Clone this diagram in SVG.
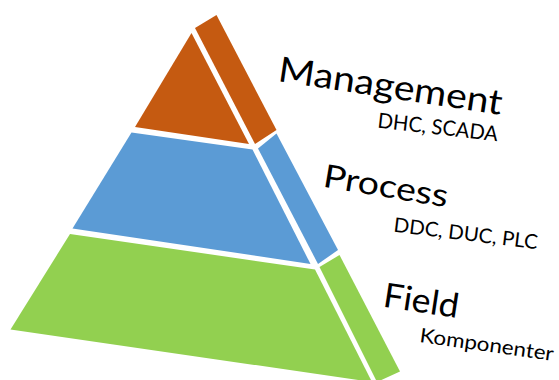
<svg xmlns="http://www.w3.org/2000/svg" width="559" height="380" viewBox="0 0 559 380">
<style>
.org{fill:#C55A11}
.blu{fill:#5B9BD5}
.grn{fill:#92D050}
.big{font-family:Lato,"Liberation Sans",sans-serif;fill:#000}
.small{font-family:Lato,"Liberation Sans",sans-serif;fill:#000}
</style>
<rect width="559" height="380" fill="#fff"/>
<g id="management">
<polygon class="org" points="191.5,33 135,127 249,144"/>
<polygon class="org" points="195,28 216.5,15 276.5,130 255,144"/>
<text class="big" x="277" y="81" font-size="35" textLength="226" lengthAdjust="spacingAndGlyphs" transform="rotate(8.6 277 81)">Management</text>
<text class="small" x="377" y="127.5" font-size="21" textLength="121" lengthAdjust="spacingAndGlyphs" transform="rotate(6.5 377 127.5)">DHC, SCADA</text>
</g>
<g id="process">
<polygon class="blu" points="131.5,132.5 252.5,149.5 310.5,264 72.5,228.5"/>
<polygon class="blu" points="258,148.5 276.5,133.5 338,250 318,264"/>
<text class="big" x="322" y="186.5" font-size="32" textLength="126" lengthAdjust="spacingAndGlyphs" transform="rotate(9.5 322 186.5)">Process</text>
<text class="small" x="393" y="231.5" font-size="20" textLength="145" lengthAdjust="spacingAndGlyphs" transform="rotate(7 393 231.5)">DDC, DUC, PLC</text>
</g>
<g id="field">
<polygon class="grn" points="70,234 315,269.5 372,382 10.5,329.5"/>
<polygon class="grn" points="319.5,267 339.5,255 400,371.5 377,382"/>
<text class="big" x="382" y="306.5" font-size="34" textLength="76" lengthAdjust="spacingAndGlyphs" transform="rotate(8.7 382 306.5)">Field</text>
<text class="small" x="419" y="342" font-size="20" textLength="135" lengthAdjust="spacingAndGlyphs" transform="rotate(8 419 342)">Komponenter</text>
</g>
</svg>
